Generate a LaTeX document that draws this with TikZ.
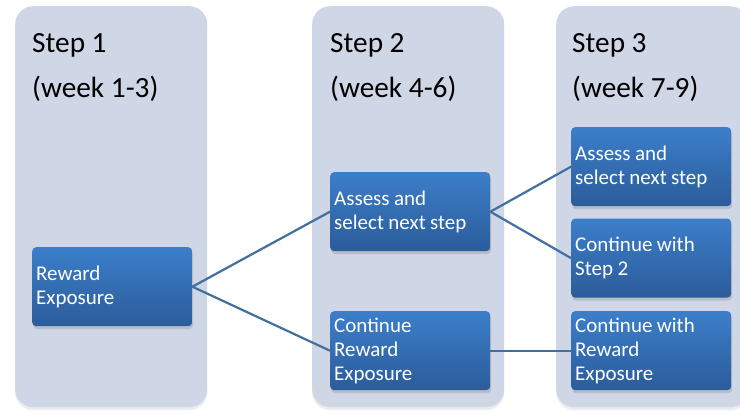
\documentclass[tikz,border=0pt]{standalone}
\usepackage{fontspec}
\setmainfont{Carlito}
\usetikzlibrary{positioning, shadows}
\definecolor{stepbg}{RGB}{207,214,229}
\definecolor{boxtop}{RGB}{60,126,202}
\definecolor{boxbottom}{RGB}{43,92,154}
\definecolor{linkblue}{RGB}{66,112,158}
\newcommand{\tightspace}{\spaceskip=4.4pt plus 2pt minus 1pt\relax}
\tikzstyle{column} = [rectangle, rounded corners=18pt, fill=stepbg, minimum width=192pt, minimum height=401pt, anchor=north west, inner sep=0pt, drop shadow={opacity=0.15, shadow xshift=0pt, shadow yshift=-3pt}]
\tikzstyle{title} = [anchor=base west, inner sep=0pt, font=\fontsize{29.3}{34}\selectfont]
\tikzstyle{task} = [rectangle, rounded corners=4pt, minimum width=160pt, minimum height=79pt, text width=152pt, inner sep=4pt, align=left, top color=boxtop, bottom color=boxbottom, text=white, font=\fontsize{21}{24}\selectfont, execute at begin node=\tightspace, drop shadow={opacity=0.3, shadow xshift=1pt, shadow yshift=-3pt}]
\tikzstyle{link} = [draw=linkblue, line width=2.2pt]

\begin{document}
\begin{tikzpicture}[x=1pt,y=-1pt]
    \useasboundingbox (0,0) rectangle (740,413);
    \node[column] (col1) at (15,6) {};
    \node[column] (col2) at (312,6) {};
    \node[column] (col3) at (556,6) {};

    \node[title] (step1) at (32,52) {Step 1};
    \node[title] (week1) at (32,97) {(week 1-3)};
    \node[title] (step2) at (330,52) {Step 2};
    \node[title] (week2) at (330,97) {(week 4-6)};
    \node[title] (step3) at (572,52) {Step 3};
    \node[title] (week3) at (572,97) {(week 7-9)};

    \node[task,anchor=north west] (reward) at (32,247) {Reward\\Exposure};
    \node[task,anchor=north west] (assess2) at (330,172) {Assess and\\select next step};
    \node[task,anchor=north west] (continue2) at (330,311) {Continue\\Reward\\Exposure};
    \node[task,anchor=north west] (assess3) at (571,127) {Assess and\\select next step};
    \node[task,below=12pt of assess3] (withstep) {Continue with\\Step 2};
    \node[task,anchor=north west] (withreward) at (571,311) {Continue with\\Reward\\Exposure};

    \draw[link] (reward.east) -- (assess2.west);
    \draw[link] (reward.east) -- (continue2.west);
    \draw[link] (assess2.east) -- (assess3.west);
    \draw[link] (assess2.east) -- (withstep.west);
    \draw[link] (continue2.east) -- (withreward.west);
\end{tikzpicture}
\end{document}
